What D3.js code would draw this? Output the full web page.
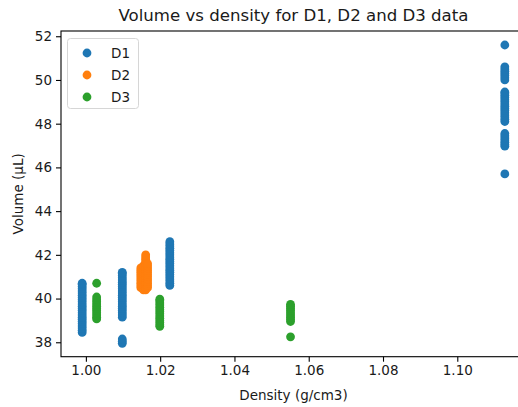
<!DOCTYPE html>
<html>
<head>
<meta charset="utf-8">
<script src="https://cdn.jsdelivr.net/npm/d3@7"></script>
<style>
body { margin: 0; background: #fff; }
text { font-family: "DejaVu Sans", sans-serif; fill: #1a1a1a; }
</style>
</head>
<body>
<div id="chart"></div>
<script>
var xTicks = [1.00, 1.02, 1.04, 1.06, 1.08, 1.10];
var yTicks = [38, 40, 42, 44, 46, 48, 50, 52];
var seriesNames = ["D1", "D2", "D3"];
var seriesColours = ["#1f77b4", "#ff7f0e", "#2ca02c"];

// each column: [density, [volumes]]
var d1Columns = [
    [0.999, [38.45, 38.55, 38.65, 38.75, 38.85, 38.95, 39.05, 39.15, 39.25, 39.35, 39.45, 39.55, 39.65, 39.75,
             39.85, 39.95, 40.05, 40.15, 40.25, 40.35, 40.45, 40.55, 40.65, 40.7]],
    [1.0098, [37.95, 38.05, 38.15, 39.15, 39.25, 39.35, 39.45, 39.55, 39.65, 39.75, 39.85, 39.95, 40.05, 40.15,
              40.25, 40.35, 40.45, 40.55, 40.65, 40.75, 40.85, 40.95, 41.05, 41.15, 41.2]],
    [1.0226, [40.6, 40.7, 40.8, 40.9, 41.0, 41.1, 41.2, 41.3, 41.4, 41.5, 41.6, 41.7, 41.8, 41.9, 42.0, 42.1,
              42.2, 42.3, 42.4, 42.5, 42.6]],
    [1.1128, [45.7, 46.97, 47.05, 47.15, 47.25, 47.35, 47.45, 47.55, 48.1, 48.2, 48.3, 48.4, 48.5, 48.6, 48.7,
              48.8, 48.9, 49.0, 49.1, 49.2, 49.3, 49.4, 49.45, 50.0, 50.1, 50.2, 50.3, 50.4, 50.5, 50.6, 51.6]]
];
var d2Columns = [
    [1.0148, [40.5, 40.6, 40.7, 40.8, 40.9, 41.0, 41.1, 41.2, 41.3, 41.4]],
    [1.0155, [40.4, 40.5, 40.6, 40.7, 40.8, 40.9, 41.0, 41.1, 41.2, 41.3, 41.4, 41.5]],
    [1.0161, [40.4, 40.5, 40.6, 40.7, 40.8, 40.9, 41.0, 41.1, 41.2, 41.3, 41.4, 41.5, 41.6, 41.7, 41.8, 41.9, 42.0]],
    [1.0166, [40.5, 40.6, 40.7, 40.8, 40.9, 41.0, 41.1, 41.2, 41.3, 41.4, 41.5, 41.6]]
];
var d3Columns = [
    [1.0029, [39.07, 39.15, 39.25, 39.35, 39.45, 39.55, 39.65, 39.75, 39.85, 39.95, 40.07, 40.7]],
    [1.0199, [38.73, 38.8, 38.9, 39.0, 39.1, 39.2, 39.3, 39.4, 39.5, 39.6, 39.7, 39.8, 39.9, 39.97]],
    [1.0551, [38.25, 38.95, 39.05, 39.15, 39.25, 39.35, 39.45, 39.55, 39.65, 39.73]]
];

var width = 518, height = 407;
var pLeft = 61, pRight = 526, pTop = 31, pBottom = 356.7;

var svg = d3.select("#chart").append("svg")
        .attr("width", width).attr("height", height);

var x = d3.scaleLinear().domain([0.9933, 1.1185]).range([pLeft, pRight]);
var y = d3.scaleLinear().domain([37.34, 52.24]).range([pBottom, pTop]);

function flatten(cols) {
    var pts = [];
    cols.forEach(function (c) {
        c[1].forEach(function (v) {
            pts.push([c[0], v]);
        });
    });
    return pts;
}

var allSeries = [d1Columns, d2Columns, d3Columns];

allSeries.forEach(function (cols, i) {
    svg.append("g").selectAll("circle")
            .data(flatten(cols))
            .join("circle")
            .attr("cx", function (d) { return x(d[0]); })
            .attr("cy", function (d) { return y(d[1]); })
            .attr("r", 4.4)
            .attr("fill", seriesColours[i]);
});

// axes
var xAxis = svg.append("g").attr("transform", "translate(0," + pBottom + ")")
        .call(d3.axisBottom(x).tickValues(xTicks).tickFormat(d3.format(".2f")).tickSize(5).tickPadding(4));
var yAxis = svg.append("g").attr("transform", "translate(" + pLeft + ",0)")
        .call(d3.axisLeft(y).tickValues(yTicks).tickFormat(d3.format("d")).tickSize(5).tickPadding(4));

[xAxis, yAxis].forEach(function (ax) {
    ax.select(".domain").remove();
    ax.selectAll("line").attr("stroke", "#000").attr("stroke-width", 1.1);
    ax.selectAll("text").style("font-size", "13.5px").attr("fill", "#1a1a1a")
            .style("font-family", "'DejaVu Sans', sans-serif");
});

// spines
svg.append("rect")
        .attr("x", pLeft).attr("y", pTop)
        .attr("width", pRight - pLeft).attr("height", pBottom - pTop)
        .attr("fill", "none").attr("stroke", "#000").attr("stroke-width", 1.1);

// titles
svg.append("text")
        .attr("x", (pLeft + pRight) / 2).attr("y", 21)
        .attr("text-anchor", "middle")
        .style("font-size", "16.6px")
        .text("Volume vs density for D1, D2 and D3 data");

svg.append("text")
        .attr("x", (pLeft + pRight) / 2).attr("y", 400)
        .attr("text-anchor", "middle")
        .style("font-size", "13.5px")
        .text("Density (g/cm3)");

svg.append("text")
        .attr("transform", "translate(23," + ((pTop + pBottom) / 2) + ") rotate(-90)")
        .attr("text-anchor", "middle")
        .style("font-size", "13.5px")
        .text("Volume (\u00b5L)");

// legend
var legend = svg.append("g");
legend.append("rect")
        .attr("x", 67.5).attr("y", 38.5)
        .attr("width", 71).attr("height", 70)
        .attr("rx", 3)
        .attr("fill", "#fff").attr("fill-opacity", 0.8)
        .attr("stroke", "#d6d6d6");

seriesNames.forEach(function (name, i) {
    var cy = 53 + i * 22;
    legend.append("circle")
            .attr("cx", 87).attr("cy", cy).attr("r", 4.4)
            .attr("fill", seriesColours[i]);
    legend.append("text")
            .attr("x", 111).attr("y", cy + 5)
            .style("font-size", "13.5px")
            .text(name);
});
</script>
</body>
</html>
